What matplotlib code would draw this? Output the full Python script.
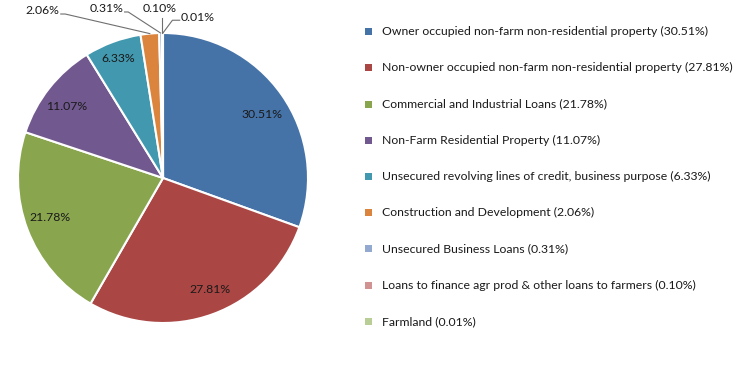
import matplotlib
matplotlib.use("Agg")
import matplotlib.pyplot as plt
import numpy as np
from matplotlib.patches import Rectangle

categories = [
    "Owner occupied non-farm non-residential property",
    "Non-owner occupied non-farm non-residential property",
    "Commercial and Industrial Loans",
    "Non-Farm Residential Property",
    "Unsecured revolving lines of credit, business purpose",
    "Construction and Development",
    "Unsecured Business Loans",
    "Loans to finance agr prod & other loans to farmers",
    "Farmland",
]
values = [30.51, 27.81, 21.78, 11.07, 6.33, 2.06, 0.31, 0.10, 0.01]
colors = ["#4572A7", "#AA4643", "#89A54E", "#71588F", "#4198AF",
          "#DB843D", "#93A9CF", "#D19392", "#B9CD96"]

# label positions (data units of the pie axes, radius = 1)
label_pos = [(0.683, 0.441), (0.324, -0.766), (-0.779, -0.269), (-0.662, 0.490),
             (-0.310, 0.821), (-0.834, 1.152), (-0.386, 1.172), (-0.021, 1.166),
             (0.240, 1.110)]
# leader line start points for outside labels
leaders = {5: [(-0.705, 1.131), (-0.675, 1.131)],
           6: [(-0.265, 1.145), (-0.240, 1.145)],
           7: [(None, 1.105)],
           8: [(0.115, 1.088), (0.065, 1.088)]}

FONT = "Lato"
FS = 8.85
W, H = 755, 375
fig = plt.figure(figsize=(W / 100, H / 100), dpi=100)
fig.patch.set_facecolor("white")

cx, cy, R = 163, 178, 145
half = 1.1 * R
ax = fig.add_axes([(cx - half) / W, (H - cy - half) / H, 2 * half / W, 2 * half / H])
wedges, _ = ax.pie(values, colors=colors, startangle=90, counterclock=False,
                   radius=1.0, wedgeprops=dict(edgecolor="white", linewidth=1.5))
ax.set_xlim(-1.1, 1.1)
ax.set_ylim(-1.1, 1.1)
ax.set_aspect("equal")
ax.axis("off")

for i, (w, v) in enumerate(zip(wedges, values)):
    lx, ly = label_pos[i]
    ax.text(lx, ly, f"{v:.2f}%", ha="center", va="center", fontsize=FS,
            family=FONT, color="#1a1a1a", clip_on=False)
    if i in leaders:
        mid = np.deg2rad((w.theta1 + w.theta2) / 2)
        ex, ey = np.cos(mid), np.sin(mid)
        pts = [(ex if px is None else px, py) for px, py in leaders[i]] + [(ex, ey)]
        xs, ys = zip(*pts)
        ax.plot(xs, ys, color="#6f6f6f", lw=0.8, clip_on=False)

# legend
y0, dy = 31.7, 36.2
for i, (c, v, col) in enumerate(zip(categories, values, colors)):
    yy = y0 + i * dy
    fig.patches.append(Rectangle(((368 - 3.5) / W, (H - yy - 3.5) / H), 7 / W, 7 / H,
                                 transform=fig.transFigure, facecolor=col,
                                 edgecolor="none"))
    fig.text(382 / W, (H - yy) / H, f"{c} ({v:.2f}%)", ha="left", va="center",
             fontsize=FS, family=FONT, color="#1a1a1a")

fig.savefig("out.png", dpi=100)
